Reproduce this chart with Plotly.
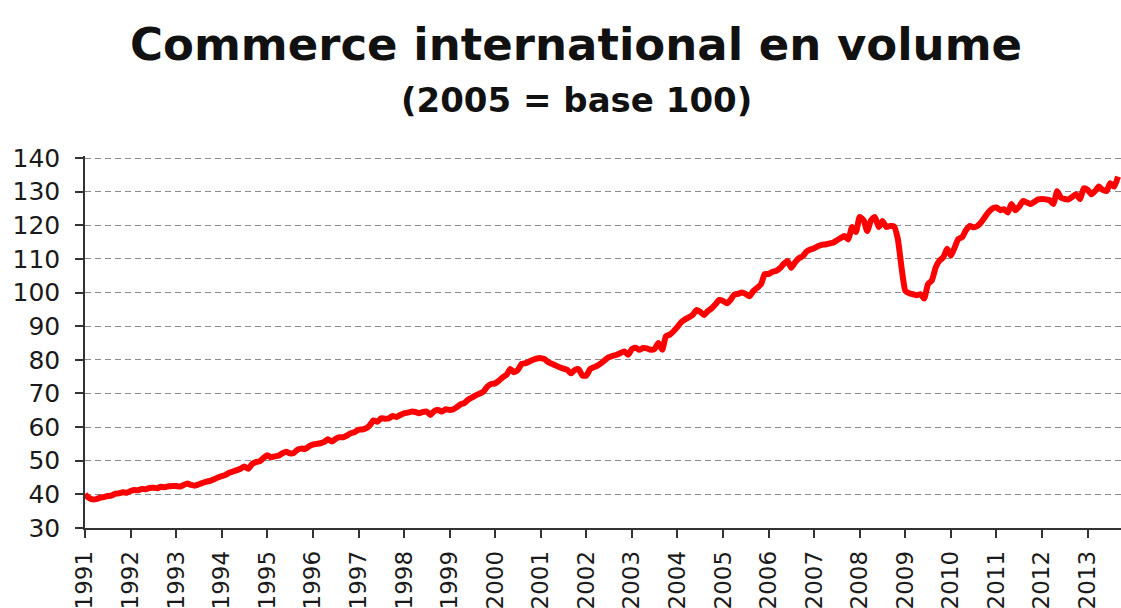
import plotly.graph_objects as go
import pandas as pd

title_text = "Commerce international en volume"
subtitle_text = "(2005 = base 100)"

start_month = "1991-01-01"

v1991 = [40.0, 39.0, 38.5, 38.6, 39.0, 39.2, 39.5, 39.6, 40.2, 40.3, 40.6, 40.5]
v1992 = [41.0, 41.3, 41.2, 41.6, 41.5, 41.9, 42.0, 41.8, 42.3, 42.1, 42.4, 42.5]
v1993 = [42.5, 42.3, 42.8, 43.2, 42.8, 42.6, 43.0, 43.4, 43.8, 44.0, 44.5, 45.0]
v1994 = [45.4, 45.8, 46.4, 46.8, 47.2, 47.6, 48.3, 47.6, 49.0, 49.6, 49.8, 50.8]
v1995 = [51.6, 51.0, 51.3, 51.5, 52.2, 52.7, 52.2, 52.3, 53.3, 53.6, 53.5, 54.3]
v1996 = [54.8, 55.0, 55.2, 55.6, 56.4, 55.7, 56.5, 57.0, 57.0, 57.5, 58.2, 58.5]
v1997 = [59.2, 59.3, 59.6, 60.5, 62.0, 61.6, 62.6, 62.5, 62.6, 63.3, 63.0, 63.6]
v1998 = [64.1, 64.3, 64.6, 64.5, 64.1, 64.5, 64.6, 63.6, 64.8, 65.1, 64.6, 65.3]
v1999 = [65.1, 65.3, 66.0, 66.8, 67.2, 68.2, 68.8, 69.5, 70.0, 70.6, 72.1, 72.8]
v2000 = [73.0, 73.8, 74.8, 75.5, 77.3, 76.3, 77.0, 78.8, 79.0, 79.5, 80.0, 80.4]
v2001 = [80.5, 80.2, 79.3, 78.8, 78.3, 77.8, 77.4, 77.0, 76.0, 77.0, 77.2, 75.3]
v2002 = [75.3, 77.3, 77.8, 78.3, 79.0, 80.0, 80.8, 81.2, 81.5, 82.0, 82.5, 81.5]
v2003 = [83.2, 83.6, 83.0, 83.5, 83.4, 83.0, 83.2, 85.0, 83.0, 87.0, 87.5, 88.5]
v2004 = [89.8, 91.2, 92.0, 92.6, 93.3, 94.8, 94.3, 93.3, 94.5, 95.3, 96.5, 97.8]
v2005 = [97.5, 96.8, 97.8, 99.4, 99.6, 100.0, 99.6, 98.9, 100.5, 101.4, 102.5, 105.5]
v2006 = [105.5, 106.2, 106.4, 107.2, 108.5, 109.4, 107.4, 109.0, 110.2, 110.8, 112.2, 112.8]
v2007 = [113.2, 113.8, 114.2, 114.3, 114.6, 114.8, 115.5, 116.2, 116.8, 115.8, 119.5, 118.0]
v2008 = [122.5, 121.5, 118.3, 121.5, 122.5, 119.5, 121.3, 119.5, 119.8, 119.7, 116.0, 107.5]
v2009 = [100.5, 99.8, 99.5, 99.2, 99.5, 98.2, 102.5, 103.6, 107.5, 109.5, 110.5, 113.0]
v2010 = [111.0, 113.5, 115.9, 116.5, 118.5, 119.8, 119.4, 119.8, 120.9, 122.5, 124.0, 125.0]
v2011 = [125.3, 124.5, 124.8, 123.8, 126.3, 124.5, 125.5, 127.2, 126.8, 126.3, 127.0, 127.7]
v2012 = [127.8, 127.7, 127.5, 126.3, 130.1, 128.2, 127.8, 127.7, 128.5, 129.2, 127.8, 131.0]
v2013 = [130.5, 129.2, 130.2, 131.5, 130.5, 130.2, 132.5, 131.5, 134.5]

values = (v1991 + v1992 + v1993 + v1994 + v1995 + v1996 + v1997 + v1998 + v1999
          + v2000 + v2001 + v2002 + v2003 + v2004 + v2005 + v2006 + v2007 + v2008
          + v2009 + v2010 + v2011 + v2012 + v2013)
dates = pd.date_range(start_month, periods=len(values), freq="MS")

fig = go.Figure()
fig.add_trace(go.Scatter(
    x=dates, y=values, mode="lines",
    line=dict(color="#ff0000", width=6, shape="spline", smoothing=0.5),
    showlegend=False, hoverinfo="skip",
))

font_family = "DejaVu Sans"

fig.update_layout(
    width=1121, height=608,
    margin=dict(l=85, r=0, t=156, b=80),
    paper_bgcolor="white", plot_bgcolor="white",
    font=dict(family=font_family, color="#1a1a1a", size=25),
    annotations=[
        dict(text="<b>" + title_text + "</b>", xref="paper", yref="paper",
             x=0.474, y=1.300, xanchor="center", yanchor="middle",
             showarrow=False, font=dict(size=45, color="#111111", family=font_family)),
        dict(text="<b>" + subtitle_text + "</b>", xref="paper", yref="paper",
             x=0.474, y=1.150, xanchor="center", yanchor="middle",
             showarrow=False, font=dict(size=34, color="#111111", family=font_family)),
    ],
)

fig.update_xaxes(
    type="date",
    range=["1991-01-01", "2013-09-25"],
    dtick="M12", tick0="1991-01-01", tickformat="%Y",
    tickangle=-90,
    ticks="outside", ticklen=8, tickwidth=1.5, tickcolor="#333333",
    ticklabelstandoff=4, automargin=False,
    showline=True, linecolor="#333333", linewidth=1.5,
    showgrid=False, zeroline=False,
    tickfont=dict(size=23, family=font_family, color="#1a1a1a"),
)
fig.update_yaxes(
    range=[30, 140.6], dtick=10, tick0=30,
    ticks="outside", ticklen=8, tickwidth=1.5, tickcolor="#333333",
    ticklabelstandoff=10, automargin=False,
    showline=True, linecolor="#333333", linewidth=1.5,
    showgrid=True, gridcolor="#8c8c8c", gridwidth=1, griddash="6px,4px",
    zeroline=False,
    tickfont=dict(size=25, family=font_family, color="#1a1a1a"),
)

fig.write_html("out.html")
